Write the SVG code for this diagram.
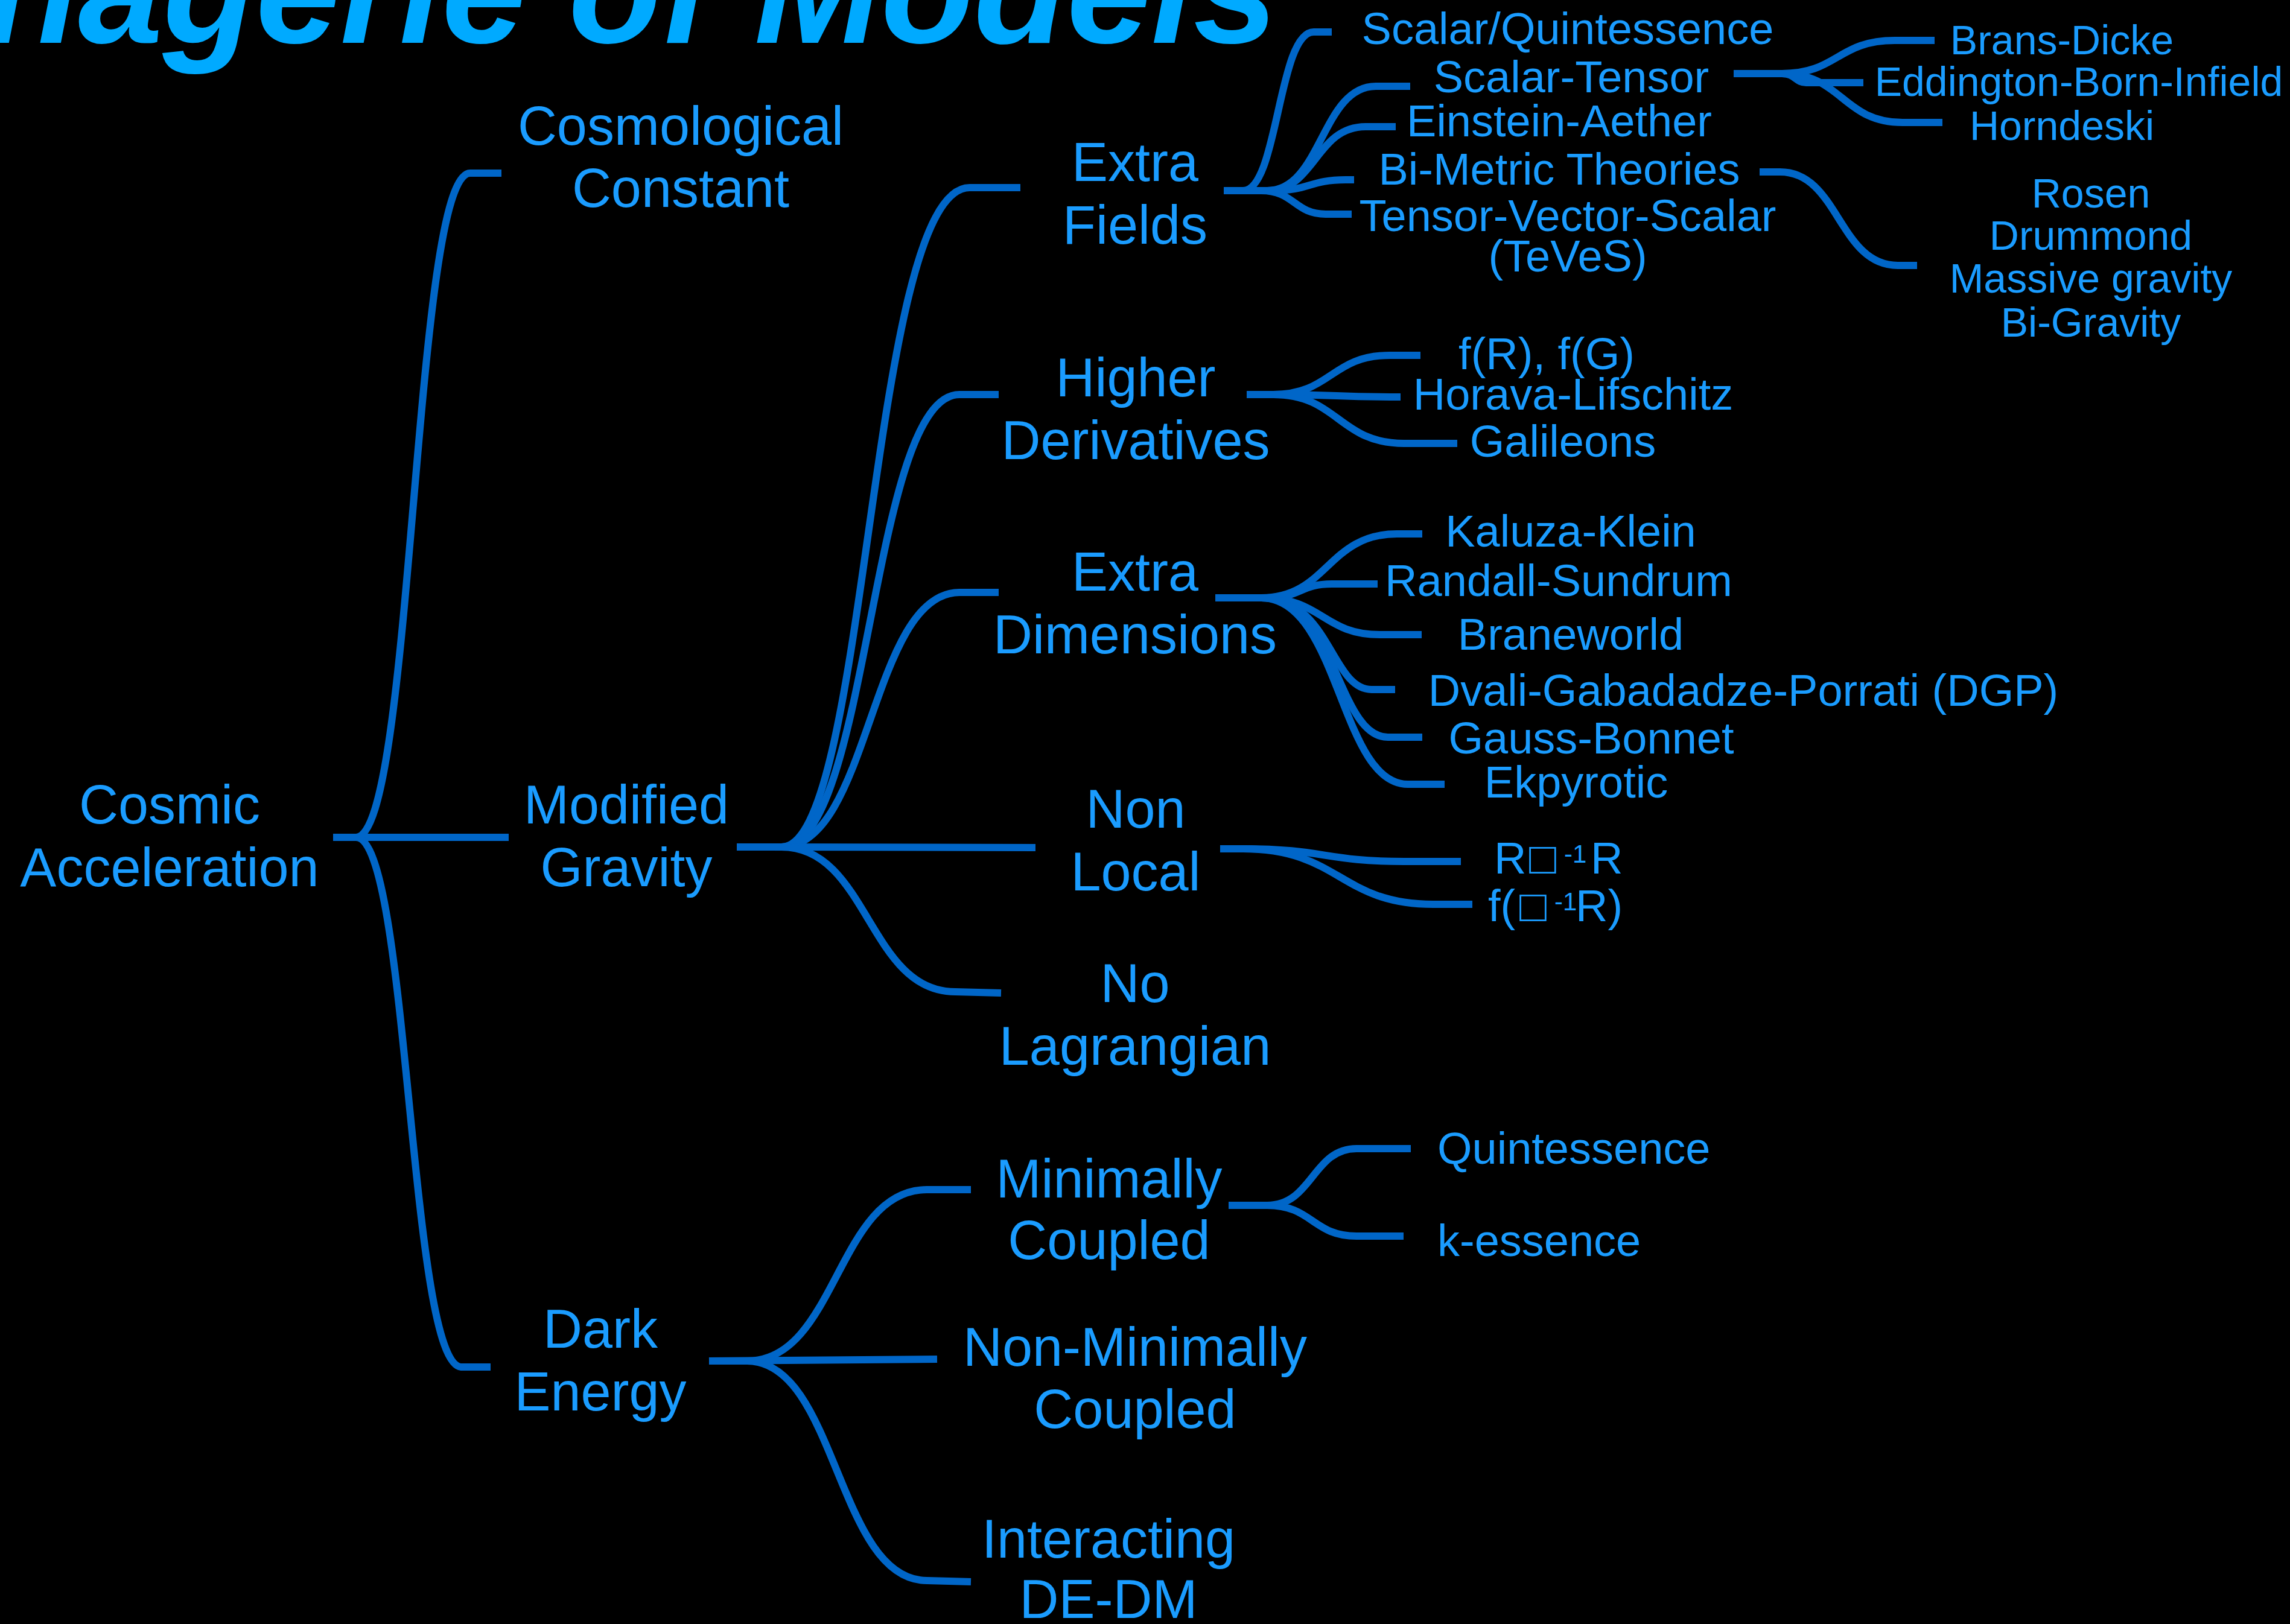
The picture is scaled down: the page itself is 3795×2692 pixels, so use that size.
<svg xmlns="http://www.w3.org/2000/svg" width="3795" height="2692" viewBox="0 0 3795 2692">
<style>
.bg{fill:#000}
text{font-family:"Liberation Sans",Arial,sans-serif;fill:#1a9cff}
.title{fill:#00aaff;font-weight:bold;font-style:italic;font-size:252px}
.l1{font-size:90px;text-anchor:middle}
.l2{font-size:74px;text-anchor:middle}
.l2s{font-size:74px}
.l3{font-size:68px;text-anchor:middle}
.c{fill:none;stroke:#0066c8;stroke-width:12}
</style>
<rect class="bg" x="0" y="0" width="3795" height="2692"/>
<text id="title" class="title" x="2118" y="71" text-anchor="end">Menagerie of Models</text>
<g id="connectors">
<path class="c" d="M552,1388 L590,1388 C685,1388 685,287 779,287 L831,287"/>
<path class="c" d="M552,1388 L843,1388"/>
<path class="c" d="M552,1388 L590,1388 C678,1388 678,2266 765,2266 L813,2266"/>
<path class="c" d="M1221,1404 L1295,1404 C1440,1404 1440,311 1607,311 L1691,311"/>
<path class="c" d="M1221,1404 L1295,1404 C1442,1404 1442,654 1590,654 L1655,654"/>
<path class="c" d="M1221,1404 L1295,1404 C1442,1404 1442,982 1590,982 L1655,982"/>
<path class="c" d="M1221,1404 L1716,1405"/>
<path class="c" d="M1221,1404 L1295,1404 C1439,1404 1439,1644 1583,1644 L1659,1646"/>
<path class="c" d="M2028,316 L2060,316 C2118,316 2118,53 2177,53 L2207,53"/>
<path class="c" d="M2028,316 L2100,316 C2190,316 2190,143 2280,143 L2337,143"/>
<path class="c" d="M2028,316 L2100,316 C2180,316 2180,210 2263,210 L2313,210"/>
<path class="c" d="M2028,316 L2110,316 C2170,316 2170,298 2230,298 L2244,298"/>
<path class="c" d="M2028,316 L2090,316 C2145,316 2145,355 2197,355 L2240,355"/>
<path class="c" d="M2873,122 L2953,122 C3045,122 3045,67 3140,67 L3206,67"/>
<path class="c" d="M2873,122 L2953,122 C2975,122 2975,137 2993,137 L3088,137"/>
<path class="c" d="M2873,122 L2953,122 C3053,122 3053,203 3153,203 L3219,203"/>
<path class="c" d="M2916,285 L2950,285 C3047,285 3047,440 3145,440 L3177,440"/>
<path class="c" d="M2066,654 L2110,654 C2206,654 2206,589 2303,589 L2354,589"/>
<path class="c" d="M2066,654 L2110,654 C2215,654 2215,658 2321,658"/>
<path class="c" d="M2066,654 L2110,654 C2218,654 2218,735 2327,735 L2415,735"/>
<path class="c" d="M2014,991 L2090,991 C2200,991 2200,885 2315,885 L2357,885"/>
<path class="c" d="M2014,991 L2100,991 C2155,991 2155,968 2207,968 L2283,968"/>
<path class="c" d="M2014,991 L2090,991 C2192,991 2192,1052 2287,1052 L2356,1052"/>
<path class="c" d="M2014,991 L2090,991 C2205,991 2205,1143 2273,1143 L2312,1143"/>
<path class="c" d="M2014,991 L2090,991 C2215,991 2215,1222 2300,1222 L2357,1222"/>
<path class="c" d="M2014,991 L2090,991 C2220,991 2220,1300 2333,1300 L2394,1300"/>
<path class="c" d="M2022,1407 L2060,1407 C2195,1407 2195,1428 2327,1428 L2421,1428"/>
<path class="c" d="M2022,1407 L2060,1407 C2220,1407 2220,1499 2375,1499 L2440,1499"/>
<path class="c" d="M2036,1998 L2100,1998 C2175,1998 2175,1904 2248,1904 L2338,1904"/>
<path class="c" d="M2036,1998 L2100,1998 C2175,1998 2175,2049 2248,2049 L2326,2049"/>
<path class="c" d="M1175,2256 L1238,2256 C1387,2256 1387,1972 1536,1972 L1609,1972"/>
<path class="c" d="M1175,2256 L1553,2253"/>
<path class="c" d="M1175,2256 L1238,2256 C1387,2256 1387,2620 1536,2620 L1609,2622"/>
</g>
<g id="n-cosmic"><text class="l1" x="281" y="1365">Cosmic</text><text class="l1" x="281" y="1469">Acceleration</text></g>
<g id="n-cc"><text class="l1" x="1128" y="240">Cosmological</text><text class="l1" x="1128" y="343">Constant</text></g>
<g id="n-mg"><text class="l1" x="1038" y="1365">Modified</text><text class="l1" x="1038" y="1469">Gravity</text></g>
<g id="n-de"><text class="l1" x="995" y="2234">Dark</text><text class="l1" x="995" y="2338">Energy</text></g>
<g id="n-ef"><text class="l1" x="1881" y="300">Extra</text><text class="l1" x="1881" y="404">Fields</text></g>
<g id="n-hd"><text class="l1" x="1882" y="657">Higher</text><text class="l1" x="1882" y="761">Derivatives</text></g>
<g id="n-ed"><text class="l1" x="1881" y="979">Extra</text><text class="l1" x="1881" y="1083">Dimensions</text></g>
<g id="n-nl"><text class="l1" x="1882" y="1372">Non</text><text class="l1" x="1882" y="1476">Local</text></g>
<g id="n-nolag"><text class="l1" x="1881" y="1661">No</text><text class="l1" x="1881" y="1765">Lagrangian</text></g>
<g id="n-mc"><text class="l1" x="1838" y="1985">Minimally</text><text class="l1" x="1838" y="2087">Coupled</text></g>
<g id="n-nmc"><text class="l1" x="1881" y="2264">Non-Minimally</text><text class="l1" x="1881" y="2367">Coupled</text></g>
<g id="n-idd"><text class="l1" x="1837" y="2582">Interacting</text><text class="l1" x="1837" y="2682">DE-DM</text></g>
<g id="n-sq"><text class="l2" x="2598" y="73">Scalar/Quintessence</text></g>
<g id="n-st"><text class="l2" x="2604" y="153">Scalar-Tensor</text></g>
<g id="n-ea"><text class="l2" x="2584" y="226">Einstein-Aether</text></g>
<g id="n-bm"><text class="l2" x="2584" y="306">Bi-Metric Theories</text></g>
<g id="n-tvs"><text class="l2" x="2598" y="383">Tensor-Vector-Scalar</text><text class="l2" x="2598" y="450">(TeVeS)</text></g>
<g id="n-bd"><text class="l3" x="3417" y="90">Brans-Dicke</text></g>
<g id="n-ebi"><text class="l3" x="3445" y="159">Eddington-Born-Infield</text></g>
<g id="n-ho"><text class="l3" x="3417" y="232">Horndeski</text></g>
<g id="n-rosen"><text class="l3" x="3465" y="344">Rosen</text><text class="l3" x="3465" y="414">Drummond</text><text class="l3" x="3465" y="485">Massive gravity</text><text class="l3" x="3465" y="558">Bi-Gravity</text></g>
<g id="n-fr"><text class="l2" x="2563" y="612">f(R), f(G)</text></g>
<g id="n-hl"><text class="l2" x="2607" y="679">Horava-Lifschitz</text></g>
<g id="n-gal"><text class="l2" x="2590" y="757">Galileons</text></g>
<g id="n-kk"><text class="l2" x="2603" y="906">Kaluza-Klein</text></g>
<g id="n-rs"><text class="l2" x="2583" y="988">Randall-Sundrum</text></g>
<g id="n-bw"><text class="l2" x="2603" y="1077">Braneworld</text></g>
<g id="n-dgp"><text class="l2" x="2889" y="1170">Dvali-Gabadadze-Porrati (DGP)</text></g>
<g id="n-gb"><text class="l2" x="2637" y="1249">Gauss-Bonnet</text></g>
<g id="n-ek"><text class="l2" x="2612" y="1322">Ekpyrotic</text></g>
<g id="n-rbr"><text class="l2s" y="1448"><tspan x="2476">R</tspan><tspan x="2534">□</tspan><tspan x="2592" dy="-18" font-size="42">-1</tspan><tspan x="2636" dy="18">R</tspan></text></g>
<g id="n-fbr"><text class="l2s" y="1527"><tspan x="2466">f(</tspan><tspan x="2518">□</tspan><tspan x="2576" dy="-18" font-size="42">-1</tspan><tspan x="2611" dy="18">R)</tspan></text></g>
<g id="n-q"><text class="l2s" x="2382" y="1929">Quintessence</text></g>
<g id="n-k"><text class="l2s" x="2382" y="2082">k-essence</text></g>
</svg>
